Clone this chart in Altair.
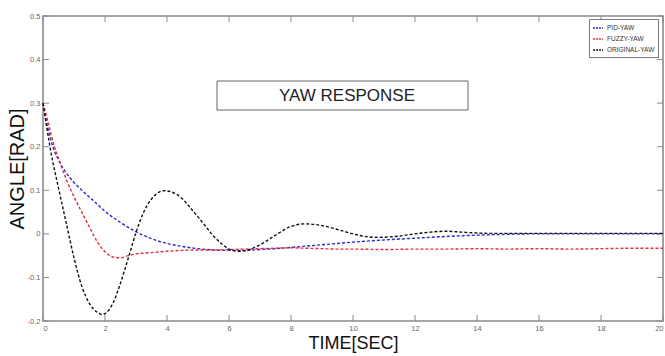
import altair as alt
import pandas as pd

# ---- data ----
series_names = ["PID-YAW", "FUZZY-YAW", "ORIGINAL-YAW"]
series_colors = ["#2a2ad0", "#e0303a", "#111111"]

t_pid = [0, 0.15, 0.32, 0.55, 0.75, 1, 1.3, 1.6, 2, 2.5, 3, 3.5, 4, 4.5, 5, 5.5, 6, 6.5, 7,
         7.5, 8, 8.5, 9, 9.5, 10, 11, 12, 13, 14, 15, 16, 17, 18, 19, 20]
v_pid = [0.30, 0.245, 0.2, 0.163, 0.14, 0.118, 0.097, 0.078, 0.052, 0.026, 0.005, -0.011,
         -0.022, -0.029, -0.034, -0.037, -0.038, -0.038, -0.036, -0.034, -0.031, -0.028,
         -0.025, -0.022, -0.019, -0.014, -0.010, -0.006, -0.003, -0.001, 0.0, 0.0, 0.0, 0.0, 0.0]

t_fuzzy = [0, 0.15, 0.37, 0.55, 0.75, 1, 1.25, 1.5, 1.75, 2, 2.25, 2.5, 2.75, 3, 3.5, 4, 4.5,
           5, 5.5, 6, 6.5, 7, 7.5, 8, 8.5, 9, 9.5, 10, 11, 12, 13, 14, 15, 16, 17, 18, 19, 20]
v_fuzzy = [0.30, 0.26, 0.2, 0.163, 0.125, 0.085, 0.05, 0.015, -0.018, -0.041, -0.053, -0.055,
           -0.05, -0.046, -0.043, -0.04, -0.038, -0.037, -0.037, -0.036, -0.035, -0.034,
           -0.033, -0.032, -0.033, -0.034, -0.035, -0.035, -0.036, -0.035, -0.035, -0.034,
           -0.035, -0.034, -0.035, -0.034, -0.033, -0.033]

t_orig = [0, 0.25, 0.5, 0.75, 1, 1.25, 1.5, 1.75, 1.9, 2.0, 2.25, 2.5, 2.75, 3, 3.25, 3.5,
          3.75, 3.9, 4.25, 4.5, 4.75, 5, 5.25, 5.5, 5.75, 6, 6.3, 6.5, 7, 7.5, 8, 8.45, 9,
          9.5, 10, 10.5, 10.8, 11.5, 12, 12.5, 13, 13.5, 14, 14.5, 15, 16, 17, 18, 19, 20]
v_orig = [0.30, 0.19, 0.105, 0.025, -0.055, -0.12, -0.160, -0.180, -0.185, -0.183, -0.160,
          -0.113, -0.056, 0.003, 0.05, 0.08, 0.096, 0.099, 0.093, 0.08, 0.06, 0.039, 0.017,
          -0.005, -0.022, -0.035, -0.04, -0.039, -0.025, -0.003, 0.017, 0.023, 0.019, 0.01,
          0.0, -0.007, -0.008, -0.005, 0.0, 0.004, 0.006, 0.004, 0.002, 0.001, 0.001, 0.001,
          0.001, 0.001, 0.001, 0.001]

x_ticks = [0, 2, 4, 6, 8, 10, 12, 14, 16, 18, 20]
y_ticks = [-0.2, -0.1, 0, 0.1, 0.2, 0.3, 0.4, 0.5]
title_text = "YAW RESPONSE"

rows = []
for name, ts, vs in zip(series_names, [t_pid, t_fuzzy, t_orig], [v_pid, v_fuzzy, v_orig]):
    for t, v in zip(ts, vs):
        rows.append({"series": name, "t": t, "v": v})
df = pd.DataFrame(rows)
xt = pd.DataFrame({"t": x_ticks})
yt = pd.DataFrame({"v": y_ticks})

FONT = "Liberation Sans Narrow, Arial Narrow, Liberation Sans, sans-serif"
W, H = 620, 305
TICK = 6
GRAY = "#8a8a8a"

xscale = alt.Scale(domain=[0, 20], nice=False, zero=False)
yscale = alt.Scale(domain=[-0.2, 0.5], nice=False, zero=False)

ylabel_expr = ("datum.value == 0 ? '0' : (datum.value < 0 ? '-' + format(-datum.value, '.1f')"
               " : format(datum.value, '.1f'))")

lines = alt.Chart(df).mark_line(strokeDash=[3, 2], strokeWidth=1.4, interpolate="monotone").encode(
    x=alt.X("t:Q", scale=xscale,
            axis=alt.Axis(values=x_ticks, ticks=False, domain=False, grid=False,
                          labelFont=FONT, labelFontSize=7.5, labelColor="#666",
                          labelPadding=3, title="TIME[SEC]", titleFont=FONT,
                          titleFontSize=18, titleFontWeight="normal", titleColor="#111",
                          titlePadding=3)),
    y=alt.Y("v:Q", scale=yscale,
            axis=alt.Axis(values=y_ticks, ticks=False, domain=False, grid=False,
                          labelFont=FONT, labelFontSize=7.5, labelColor="#666",
                          labelPadding=3, labelExpr=ylabel_expr,
                          title="ANGLE[RAD]", titleFont="Liberation Sans",
                          titleFontSize=20, titleFontWeight="normal", titleColor="#111",
                          titlePadding=0)),
    color=alt.Color("series:N", sort=series_names,
                    scale=alt.Scale(domain=series_names, range=series_colors),
                    legend=alt.Legend(title=None, orient="none", legendX=546, legendY=3,
                                      fillColor="white", strokeColor="#777", padding=3,
                                      symbolType="stroke", symbolSize=100,
                                      symbolStrokeWidth=1.3, symbolDash=[2, 1],
                                      labelFont=FONT, labelFontSize=6.5, labelColor="#333",
                                      rowPadding=1, labelOffset=3)),
)

bottom_ticks = alt.Chart(xt).mark_rule(color=GRAY, strokeWidth=1).encode(
    x=alt.X("t:Q", scale=xscale), y=alt.value(H), y2=alt.value(H - TICK))
top_ticks = alt.Chart(xt).mark_rule(color=GRAY, strokeWidth=1).encode(
    x=alt.X("t:Q", scale=xscale), y=alt.value(0), y2=alt.value(TICK))
left_ticks = alt.Chart(yt).mark_rule(color=GRAY, strokeWidth=1).encode(
    y=alt.Y("v:Q", scale=yscale), x=alt.value(0), x2=alt.value(TICK))
right_ticks = alt.Chart(yt).mark_rule(color=GRAY, strokeWidth=1).encode(
    y=alt.Y("v:Q", scale=yscale), x=alt.value(W), x2=alt.value(W - TICK))

box_df = pd.DataFrame({"label": [title_text]})
title_box = alt.Chart(box_df).mark_rect(fill="white", stroke="#666", strokeWidth=1).encode(
    x=alt.value(174), x2=alt.value(425), y=alt.value(65), y2=alt.value(94))
title_txt = alt.Chart(box_df).mark_text(font=FONT, fontSize=17, color="#222",
                                        align="center", baseline="middle").encode(
    x=alt.value(304), y=alt.value(80), text="label:N")

chart = alt.layer(
    bottom_ticks, top_ticks, left_ticks, right_ticks, lines, title_box, title_txt
).properties(
    width=W, height=H,
    autosize=alt.AutoSizeParams(type="none"),
    padding={"left": 43, "top": 16, "right": 2, "bottom": 35},
    background="white",
).configure_view(stroke=GRAY, strokeWidth=1.6)

chart.save("out.html", embed_options={"renderer": "svg", "actions": False})
